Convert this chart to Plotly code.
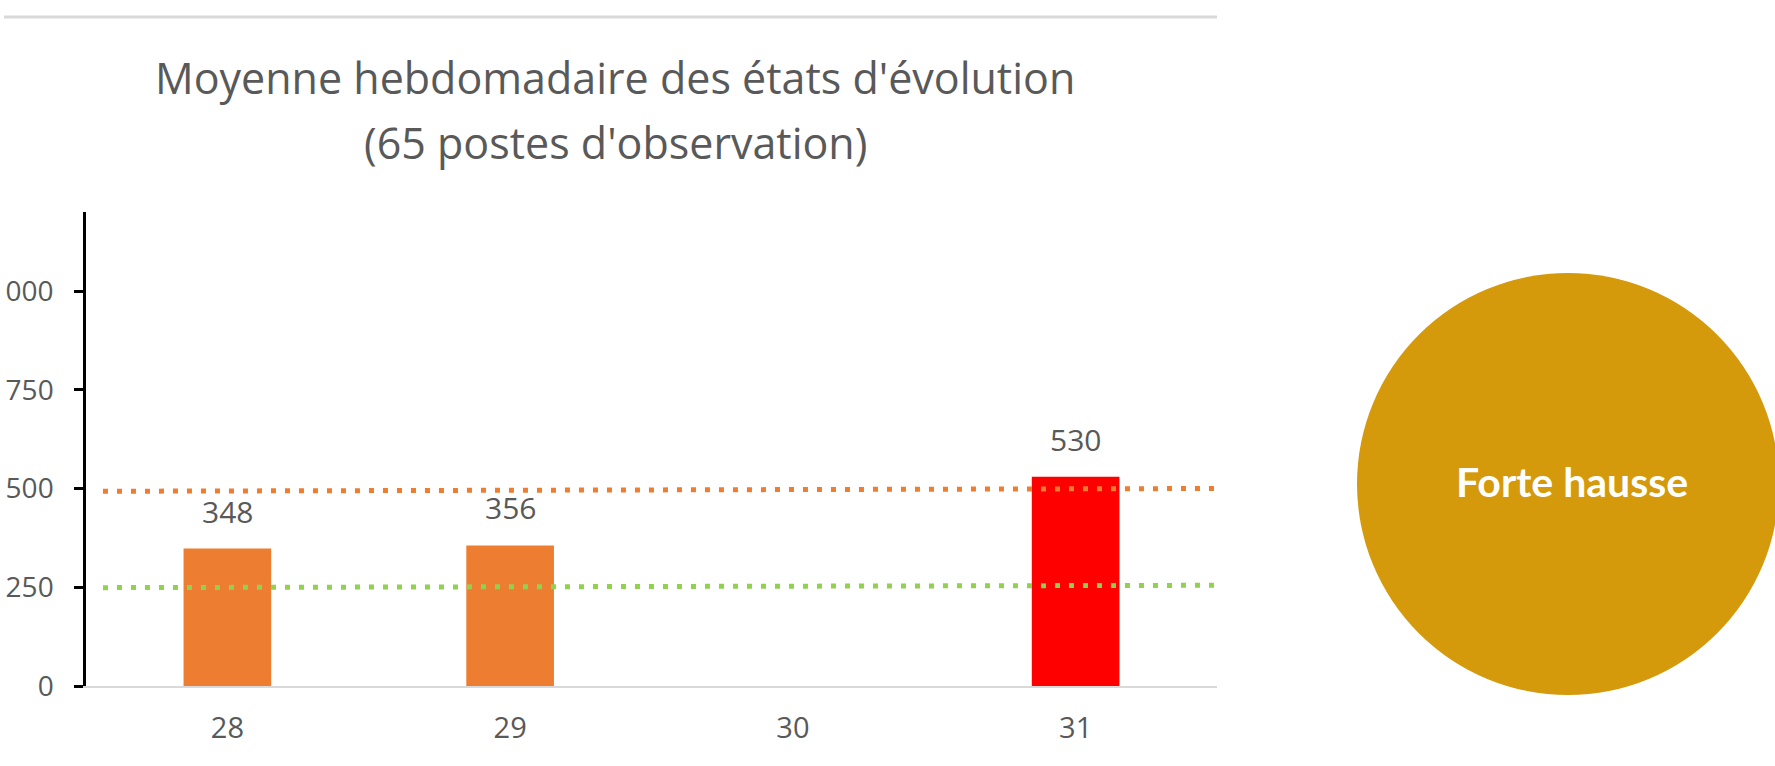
import plotly.graph_objects as go

# ---- data ----
weeks = ["28", "29", "30", "31"]
moyenne = [348, 356, None, 530]
seuil_x = [-0.44, 3.5]
seuil_haut = [493, 500]
seuil_bas = [249, 255]
y_ticks = [0, 250, 500, 750, 1000]
title_lines = ["Moyenne hebdomadaire des états d'évolution", "(65 postes d'observation)"]
etat = "Forte hausse"

ORANGE = "#ED7D31"
RED = "#FF0000"
GREEN = "#92D050"
GOLD = "#D5990C"
TXT = "#595959"
FONT = "Open Sans"

W, H = 1775, 766
L, R, T, B = 86, 1217, 212, 686
pw, ph = R - L, B - T

idx = list(range(len(weeks)))
colors = [RED if (v is not None and v > 500) else ORANGE for v in moyenne]

fig = go.Figure()
fig.add_trace(go.Bar(x=idx, y=moyenne, marker=dict(color=colors, line=dict(width=0)),
                     width=0.31, hoverinfo="skip"))
fig.add_trace(go.Scatter(x=seuil_x, y=seuil_haut, mode="lines",
                         line=dict(color=ORANGE, width=5, dash="5px,9px"), hoverinfo="skip"))
fig.add_trace(go.Scatter(x=seuil_x, y=seuil_bas, mode="lines",
                         line=dict(color=GREEN, width=5, dash="5px,9px"), hoverinfo="skip"))

for i, v in zip(idx, moyenne):
    if v is None:
        continue
    fig.add_annotation(x=i, y=v, text=str(v), showarrow=False, yanchor="bottom", yshift=15,
                       font=dict(family=FONT, size=30, color=TXT))

def px(xp):
    return (xp - L) / pw

def py(yp):
    return (B - yp) / ph

# title
fig.add_annotation(xref="paper", yref="paper", x=px(615), y=py(77), text=title_lines[0],
                   showarrow=False, xanchor="center", yanchor="middle",
                   font=dict(family=FONT, size=43, color=TXT))
fig.add_annotation(xref="paper", yref="paper", x=px(615), y=py(142), text=title_lines[1],
                   showarrow=False, xanchor="center", yanchor="middle",
                   font=dict(family=FONT, size=43, color=TXT))

# top separator line
fig.add_shape(type="line", xref="paper", yref="paper", x0=px(4), x1=px(1217), y0=py(17), y1=py(17),
              line=dict(color="#D9D9D9", width=3))

# status circle
fig.add_shape(type="circle", xref="paper", yref="paper", x0=px(1357), x1=px(1779),
              y0=py(695), y1=py(273), fillcolor=GOLD, line=dict(width=0), layer="below")
fig.add_annotation(xref="paper", yref="paper", x=px(1572), y=py(482), text="<b>%s</b>" % etat,
                   showarrow=False, xanchor="center", yanchor="middle",
                   font=dict(family="Lato", size=41, color="white"))

fig.update_layout(
    width=W, height=H,
    margin=dict(l=L, r=W - R, t=T, b=H - B, pad=0, autoexpand=False),
    paper_bgcolor="white", plot_bgcolor="white",
    showlegend=False,
    xaxis=dict(range=[-0.5, 3.5], tickmode="array", tickvals=idx, ticktext=weeks,
               showgrid=False, zeroline=False, showline=True, linecolor="#D9D9D9", linewidth=2,
               ticks="", ticklabelstandoff=15, automargin=False,
               tickfont=dict(family=FONT, size=29, color=TXT), fixedrange=True),
    yaxis=dict(range=[0, 1200], tickmode="array", tickvals=y_ticks,
               showgrid=False, zeroline=False, showline=True, linecolor="black", linewidth=2.5,
               ticks="outside", ticklen=9, tickwidth=2.5, tickcolor="black", ticklabelstandoff=15,
               automargin=False,
               tickfont=dict(family=FONT, size=28, color=TXT), fixedrange=True),
)

fig.write_html("out.html", config={"displayModeBar": False},
               post_script="document.body.style.margin='0';document.body.style.overflow='hidden';")
